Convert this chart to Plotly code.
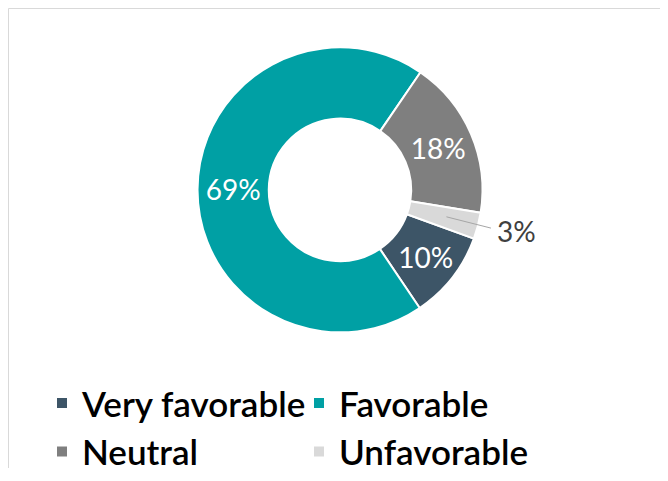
import math
import plotly.graph_objects as go

categories = ["Very favorable", "Favorable", "Neutral", "Unfavorable"]
values = [10, 69, 18, 3]
colors = ["#3d5567", "#00a0a4", "#7f7f7f", "#d9d9d9"]
text_colors = ["white", "white", "white", "#404040"]

# page body has an 8px margin; figure fills the rest of the 668x481 window
OFF = 8
W, H = 668 - OFF, 481 - OFF


def px(x):
    return (x - OFF) / W


def py(y):
    return 1 - (y - OFF) / H


cx, cy, R = 340.0, 195.0, 146.5
rotation = 110
total = sum(values)
pct = [f"{v / total:.0%}" for v in values]
inside = [True, True, True, False]

fig = go.Figure()
fig.add_trace(go.Pie(
    labels=categories,
    values=values,
    sort=False,
    direction="clockwise",
    rotation=rotation,
    hole=0.5,
    marker=dict(colors=colors, line=dict(color="white", width=2)),
    text=[p if ins else "" for p, ins in zip(pct, inside)],
    textinfo="text",
    textposition="inside",
    insidetextorientation="horizontal",
    textfont=dict(family="Lato", size=28, color=text_colors),
    domain=dict(x=[px(cx - R), px(cx + R)], y=[py(cy + R), py(cy - R)]),
    showlegend=True,
))

# outside label with leader line for the small slice, along its mid angle
start = rotation + 360 * sum(values[:3]) / total
mid = math.radians(start + 360 * values[3] / total / 2)
r1, r2 = 110, 156
x1, y1 = cx + r1 * math.sin(mid), cy - r1 * math.cos(mid)
x2, y2 = cx + r2 * math.sin(mid), cy - r2 * math.cos(mid)

shapes = [
    dict(type="line", xref="paper", yref="paper", x0=px(x1), y0=py(y1), x1=px(x2), y1=py(y2),
         line=dict(color="#a6a6a6", width=1)),
    dict(type="line", xref="paper", yref="paper", x0=0.5 / W, y0=1 - 0.5 / H, x1=1, y1=1 - 0.5 / H,
         line=dict(color="#d9d9d9", width=1)),
    dict(type="line", xref="paper", yref="paper", x0=0.5 / W, y0=1 - 0.5 / H, x1=0.5 / W, y1=0,
         line=dict(color="#d9d9d9", width=1)),
]

annotations = [
    dict(xref="paper", yref="paper", x=px(x2), y=py(y2), xanchor="left", yanchor="middle",
         xshift=4, yshift=-3, showarrow=False, text=pct[3],
         font=dict(family="Lato", size=28, color=text_colors[3])),
]

fig.update_layout(
    width=W, height=H,
    margin=dict(l=0, r=0, t=0, b=0),
    paper_bgcolor="white", plot_bgcolor="white",
    shapes=shapes,
    annotations=annotations,
    legend=dict(
        orientation="h",
        x=px(42), xanchor="left",
        y=py(384), yanchor="top",
        entrywidth=212, entrywidthmode="pixels",
        font=dict(family="Lato", size=35, color="#000000", weight=600),
        bgcolor="rgba(0,0,0,0)",
        traceorder="normal",
    ),
)

fig.write_html("out.html")
